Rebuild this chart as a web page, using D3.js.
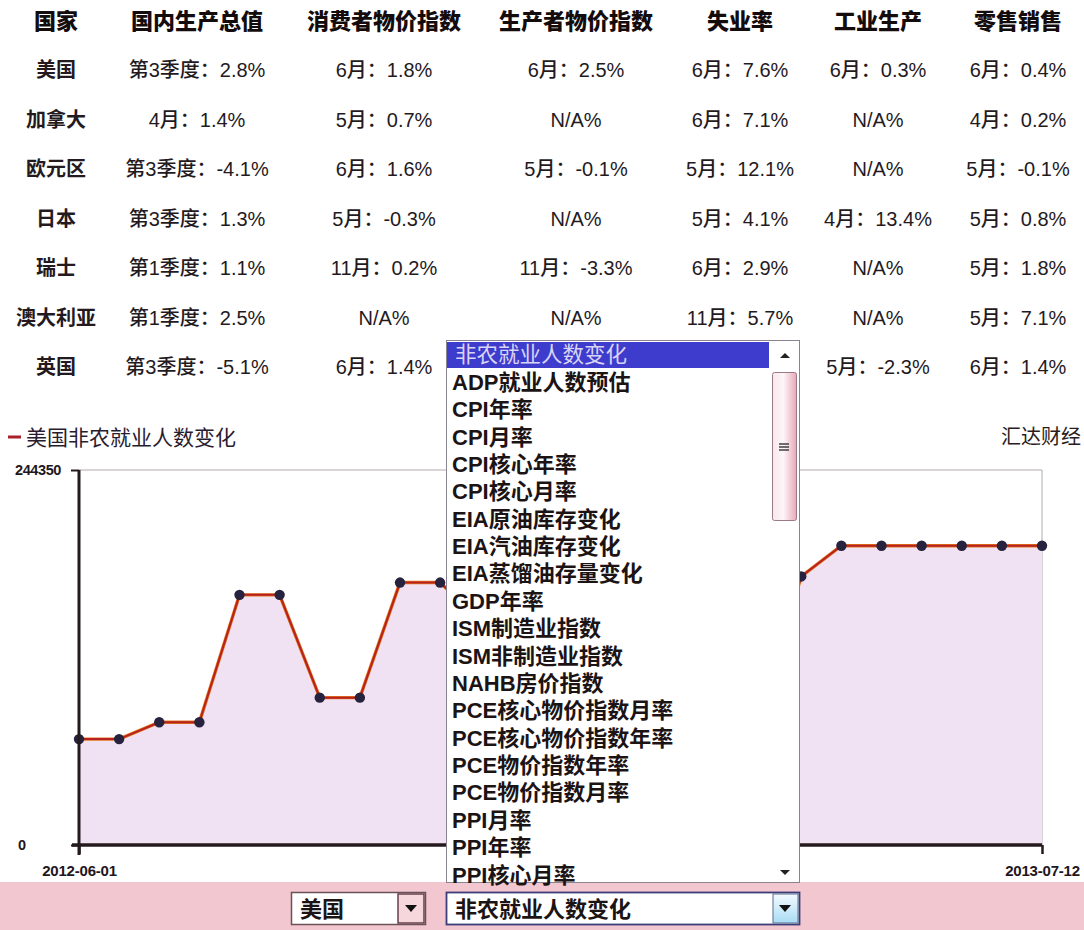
<!DOCTYPE html>
<html><head><meta charset="utf-8">
<script src="https://cdn.jsdelivr.net/npm/d3@7/dist/d3.min.js"></script>
<style>
html,body{margin:0;padding:0;background:#fff;}
svg{display:block;}
text{font-family:"Liberation Sans",Arial,"Noto Sans CJK SC",sans-serif;}
</style></head>
<body>
<svg id="c" width="1084" height="930"></svg>
<script>
// ---------- data ----------
const headers = ["国家","国内生产总值","消费者物价指数","生产者物价指数","失业率","工业生产","零售销售"];
const countries = ["美国","加拿大","欧元区","日本","瑞士","澳大利亚","英国"];
const gdp = ["第3季度：2.8%","4月：1.4%","第3季度：-4.1%","第3季度：1.3%","第1季度：1.1%","第1季度：2.5%","第3季度：-5.1%"];
const cpi = ["6月：1.8%","5月：0.7%","6月：1.6%","5月：-0.3%","11月：0.2%","N/A%","6月：1.4%"];
// last row of these two columns is hidden by the open dropdown in the reference
const ppi = ["6月：2.5%","N/A%","5月：-0.1%","N/A%","11月：-3.3%","N/A%",""];
const unemp = ["6月：7.6%","6月：7.1%","5月：12.1%","5月：4.1%","6月：2.9%","11月：5.7%",""];
const indProd = ["6月：0.3%","N/A%","N/A%","4月：13.4%","N/A%","N/A%","5月：-2.3%"];
const retail = ["6月：0.4%","4月：0.2%","5月：-0.1%","5月：0.8%","5月：1.8%","5月：7.1%","6月：1.4%"];

const seriesName = "美国非农就业人数变化";
const source = "汇达财经";
const nfp = [69000,69000,80000,80000,163000,163000,96000,96000,171000,171000,
             146000,146000,157000,157000,236000,236000,88000,88000,175000,
             195000,195000,195000,195000,195000,195000];
const yTicks = [0, 244350];
const xTickLabels = ["2012-06-01","2013-07-12"];

const indicators = ["非农就业人数变化","ADP就业人数预估","CPI年率","CPI月率","CPI核心年率","CPI核心月率",
  "EIA原油库存变化","EIA汽油库存变化","EIA蒸馏油存量变化","GDP年率","ISM制造业指数","ISM非制造业指数",
  "NAHB房价指数","PCE核心物价指数月率","PCE核心物价指数年率","PCE物价指数年率","PCE物价指数月率",
  "PPI月率","PPI年率","PPI核心月率"];
const selCountry = "美国";
const selIndicator = "非农就业人数变化";

(function(){
const svg = d3.select("#c");
const ink = "#241a1e";
const defs = svg.append("defs");

// table
const columns = [countries, gdp, cpi, ppi, unemp, indProd, retail];
const colX = d3.scaleOrdinal().domain(d3.range(headers.length)).range([56,197,384,576,740,878,1018]);
const rowY = d3.scalePoint().domain(["h"].concat(countries)).range([21,367]);

const tbl = svg.append("g");
tbl.selectAll("text.h").data(headers).join("text")
  .attr("class","h")
  .attr("x",(d,i)=>colX(i)).attr("y",rowY("h"))
  .attr("text-anchor","middle").attr("dominant-baseline","central")
  .attr("font-size",22).attr("font-weight","900").attr("fill","#140c0c")
  .text(d=>d);
columns.forEach((col,ci)=>{
  tbl.selectAll("text.c"+ci).data(col.map((v,ri)=>({v,ri})).filter(o=>o.v!=="")).join("text")
    .attr("class","c"+ci)
    .attr("x",colX(ci)).attr("y",o=>rowY(countries[o.ri]))
    .attr("text-anchor","middle").attr("dominant-baseline","central")
    .attr("font-size",20).attr("font-weight",ci===0?"bold":"500").attr("fill",ink)
    .text(o=>o.v);
});

// chart
const pL=79, pR=1042, pT=470, pB=845;
const x = d3.scaleLinear().domain([0,nfp.length-1]).range([pL,pR]);
const y = d3.scaleLinear().domain([yTicks[0],yTicks[1]]).range([pB,pT]);

svg.append("line").attr("x1",8).attr("x2",21).attr("y1",437).attr("y2",437)
  .attr("stroke","#a8202a").attr("stroke-width",3);
svg.append("text").attr("x",26).attr("y",437).attr("dominant-baseline","central")
  .attr("font-size",21).attr("fill","#2a1c30").text(seriesName);
svg.append("text").attr("x",1081).attr("y",437).attr("text-anchor","end").attr("dominant-baseline","central")
  .attr("font-size",20).attr("fill","#2a1c1c").text(source);

svg.append("path").attr("d",`M${pL},${pT}H${pR}V${pB}`)
  .attr("fill","none").attr("stroke","#b0a8b0").attr("stroke-width",1);

svg.append("path").datum(nfp)
  .attr("d",d3.area().x((d,i)=>x(i)).y0(y(0)).y1(d=>y(d)))
  .attr("fill","#f0e2f3");
svg.append("path").datum(nfp)
  .attr("d",d3.line().x((d,i)=>x(i)).y(d=>y(d)))
  .attr("fill","none").attr("stroke","#e0761c").attr("stroke-width",3.4);
svg.append("path").datum(nfp)
  .attr("d",d3.line().x((d,i)=>x(i)).y(d=>y(d)))
  .attr("fill","none").attr("stroke","#b8221e").attr("stroke-width",2);
svg.selectAll("circle.p").data(nfp).join("circle").attr("class","p")
  .attr("cx",(d,i)=>x(i)).attr("cy",d=>y(d)).attr("r",5.2)
  .attr("fill","#27223e");

const yAxis = svg.append("g").attr("transform",`translate(${pL},0)`)
  .call(d3.axisLeft(y).tickValues(yTicks).tickSize(8).tickSizeOuter(0).tickFormat(d3.format("d")));
yAxis.select(".domain").attr("stroke",ink).attr("stroke-width",3).attr("d",`M0,${pT}V${pB+10}`);
yAxis.selectAll(".tick line").attr("stroke",ink).attr("stroke-width",2);
yAxis.selectAll(".tick text").attr("x",d=>d===0?-61:-64).attr("text-anchor","start")
  .attr("font-size",14.5).attr("font-weight","bold").attr("fill","#1e1620").attr("font-family","Liberation Sans, Arial")
  .attr("letter-spacing","-0.4");

const xAxis = svg.append("g").attr("transform",`translate(0,${pB})`)
  .call(d3.axisBottom(x).tickValues([0,nfp.length-1]).tickSize(9).tickSizeOuter(0)
    .tickFormat((d,i)=>xTickLabels[i]));
xAxis.select(".domain").attr("stroke",ink).attr("stroke-width",3.5).attr("d",`M${pL-7},0H${pR}`);
xAxis.selectAll(".tick line").attr("stroke",ink).attr("stroke-width",2.5);
xAxis.selectAll(".tick text").attr("y",20).attr("font-size",15).attr("font-weight","bold")
  .attr("fill","#1e1620").attr("font-family","Liberation Sans, Arial").attr("letter-spacing","-0.2");

// bottom pink band
svg.append("rect").attr("x",0).attr("y",882).attr("width",1084).attr("height",48).attr("fill","#f3c7cf");

// country select
const s1 = svg.append("g");
s1.append("rect").attr("x",291.5).attr("y",892.5).attr("width",134).attr("height",32)
  .attr("fill","#fff").attr("stroke","#6a5058").attr("stroke-width",1.5);
s1.append("rect").attr("x",398).attr("y",894).attr("width",26).attr("height",29)
  .attr("fill","#f6d8dc").attr("stroke","#6a3e4a").attr("stroke-width",1.5);
s1.append("path").attr("d","M405,905h12l-6,7z").attr("fill","#111");
s1.append("text").attr("x",300).attr("y",909).attr("dominant-baseline","central")
  .attr("font-size",22).attr("font-weight","bold").attr("fill","#1c1414").text(selCountry);

// indicator select
const s2 = svg.append("g");
s2.append("rect").attr("x",446.5).attr("y",892.5).attr("width",353).attr("height",32)
  .attr("fill","#fff").attr("stroke","#3c3c78").attr("stroke-width",1.8);
const grad = defs.append("linearGradient").attr("id","bl").attr("x1",0).attr("x2",0).attr("y1",0).attr("y2",1);
grad.append("stop").attr("offset","0%").attr("stop-color","#f4fbff");
grad.append("stop").attr("offset","100%").attr("stop-color","#a8dcf4");
s2.append("rect").attr("x",773).attr("y",894).attr("width",25).attr("height",29)
  .attr("fill","url(#bl)").attr("stroke","#5a6a90").attr("stroke-width",1);
s2.append("path").attr("d","M779,905h12l-6,7z").attr("fill","#111");
s2.append("text").attr("x",455).attr("y",909).attr("dominant-baseline","central")
  .attr("font-size",22).attr("font-weight","bold").attr("fill","#1c1414").text(selIndicator);

// open dropdown list
const dl = svg.append("g");
const lT=340, lB=883, lL=446, lR=800;
dl.append("rect").attr("x",lL+0.5).attr("y",lT+0.5).attr("width",lR-lL-1).attr("height",lB-lT-1)
  .attr("fill","#fff").attr("stroke","#8a8490").attr("stroke-width",1);
const itemY = d3.scaleLinear().domain([0,indicators.length-1]).range([355,875]);
dl.append("rect").attr("x",447).attr("y",342).attr("width",322).attr("height",26).attr("fill","#3e3ccc");
dl.selectAll("text.it").data(indicators).join("text").attr("class","it")
  .attr("x",(d,i)=>i===0?455:452).attr("y",(d,i)=>itemY(i)).attr("dominant-baseline","central")
  .attr("font-size",(d,i)=>i===0?21.5:22).attr("font-weight",(d,i)=>i===0?"normal":"bold")
  .attr("fill",(d,i)=>i===0?"#d8d4f4":"#1c1414")
  .text(d=>d);

// scrollbar
const sg = defs.append("linearGradient").attr("id","pk").attr("x1",0).attr("x2",1).attr("y1",0).attr("y2",0);
sg.append("stop").attr("offset","0%").attr("stop-color","#f8e6ea");
sg.append("stop").attr("offset","45%").attr("stop-color","#fdf6f8");
sg.append("stop").attr("offset","100%").attr("stop-color","#e8a8b8");
dl.append("rect").attr("x",771).attr("y",341).attr("width",28).attr("height",541).attr("fill","#fff");
dl.append("path").attr("d","M780,358h10l-5,-5z").attr("fill","#222");
dl.append("rect").attr("x",772.5).attr("y",372.5).attr("width",24).attr("height",148).attr("rx",2)
  .attr("fill","url(#pk)").attr("stroke","#9a7a86").attr("stroke-width",1);
[-3,0,3].forEach(o=>dl.append("line").attr("x1",779).attr("x2",789).attr("y1",447+o).attr("y2",447+o)
  .attr("stroke","#333").attr("stroke-width",1.4));
dl.append("path").attr("d","M780,870h10l-5,5z").attr("fill","#222");
})();
</script>
</body></html>
